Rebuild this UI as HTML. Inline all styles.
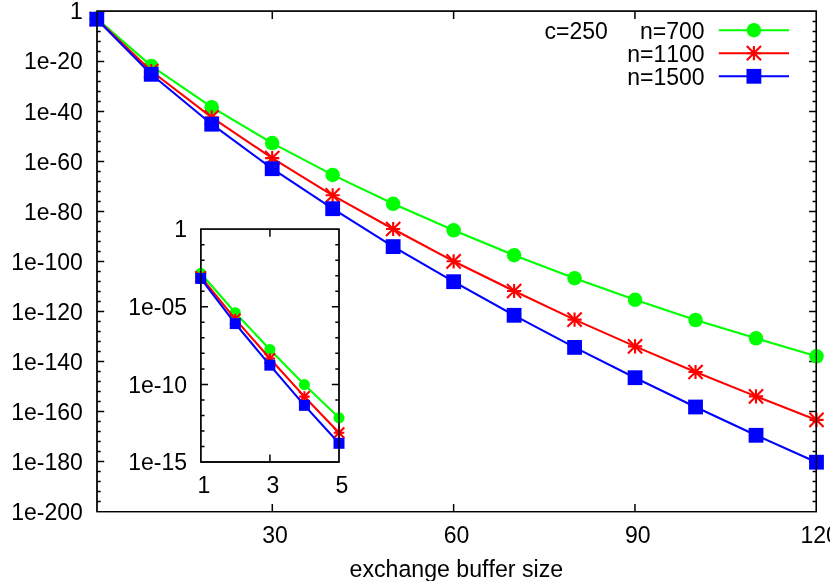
<!DOCTYPE html>
<html><head><meta charset="utf-8"><title>plot</title>
<style>
html,body{margin:0;padding:0;background:#fff;}
body{width:830px;height:581px;overflow:hidden;}
svg{display:block;will-change:transform;}
text{font-family:"Liberation Sans",sans-serif;font-size:23px;fill:#000;font-kerning:none;font-variant-ligatures:none;}
</style></head><body>
<svg width="830" height="581" viewBox="0 0 830 581">
<rect x="0" y="0" width="830" height="581" fill="#ffffff"/>
<path d="M97 11.15H816.3V511.7H97Z" fill="none" stroke="#000" stroke-width="1.3" stroke-linejoin="miter"/>
<path d="M97 21.40h3.7M816.3 21.40h-3.7M97 31.40h3.7M816.3 31.40h-3.7M97 41.40h3.7M816.3 41.40h-3.7M97 51.40h3.7M816.3 51.40h-3.7M97 61.41h7.2M816.3 61.41h-7.2M97 71.41h3.7M816.3 71.41h-3.7M97 81.41h3.7M816.3 81.41h-3.7M97 91.41h3.7M816.3 91.41h-3.7M97 101.41h3.7M816.3 101.41h-3.7M97 111.41h7.2M816.3 111.41h-7.2M97 121.41h3.7M816.3 121.41h-3.7M97 131.41h3.7M816.3 131.41h-3.7M97 141.41h3.7M816.3 141.41h-3.7M97 151.41h3.7M816.3 151.41h-3.7M97 161.41h7.2M816.3 161.41h-7.2M97 171.42h3.7M816.3 171.42h-3.7M97 181.42h3.7M816.3 181.42h-3.7M97 191.42h3.7M816.3 191.42h-3.7M97 201.42h3.7M816.3 201.42h-3.7M97 211.42h7.2M816.3 211.42h-7.2M97 221.42h3.7M816.3 221.42h-3.7M97 231.42h3.7M816.3 231.42h-3.7M97 241.42h3.7M816.3 241.42h-3.7M97 251.42h3.7M816.3 251.42h-3.7M97 261.43h7.2M816.3 261.43h-7.2M97 271.43h3.7M816.3 271.43h-3.7M97 281.43h3.7M816.3 281.43h-3.7M97 291.43h3.7M816.3 291.43h-3.7M97 301.43h3.7M816.3 301.43h-3.7M97 311.43h7.2M816.3 311.43h-7.2M97 321.43h3.7M816.3 321.43h-3.7M97 331.43h3.7M816.3 331.43h-3.7M97 341.43h3.7M816.3 341.43h-3.7M97 351.43h3.7M816.3 351.43h-3.7M97 361.44h7.2M816.3 361.44h-7.2M97 371.44h3.7M816.3 371.44h-3.7M97 381.44h3.7M816.3 381.44h-3.7M97 391.44h3.7M816.3 391.44h-3.7M97 401.44h3.7M816.3 401.44h-3.7M97 411.44h7.2M816.3 411.44h-7.2M97 421.44h3.7M816.3 421.44h-3.7M97 431.44h3.7M816.3 431.44h-3.7M97 441.44h3.7M816.3 441.44h-3.7M97 451.44h3.7M816.3 451.44h-3.7M97 461.44h7.2M816.3 461.44h-7.2M97 471.45h3.7M816.3 471.45h-3.7M97 481.45h3.7M816.3 481.45h-3.7M97 491.45h3.7M816.3 491.45h-3.7M97 501.45h3.7M816.3 501.45h-3.7M272.29 511.45v-7.5M272.29 11.4v7.5M453.63 511.45v-7.5M453.63 11.4v7.5M634.96 511.45v-7.5M634.96 11.4v7.5" fill="none" stroke="#000" stroke-width="1.5"/>
<polyline points="96.80,18.60 151.23,65.90 211.71,107.15 272.19,143.10 332.67,174.90 393.15,203.80 453.63,230.30 514.11,255.20 574.58,278.20 635.06,299.80 695.54,320.00 756.02,338.30 816.50,356.30" fill="none" stroke="#00ff00" stroke-width="2.1" stroke-linejoin="round"/>
<circle cx="96.80" cy="18.60" r="7.25" fill="#00ff00"/>
<circle cx="151.23" cy="65.90" r="7.25" fill="#00ff00"/>
<circle cx="211.71" cy="107.15" r="7.25" fill="#00ff00"/>
<circle cx="272.19" cy="143.10" r="7.25" fill="#00ff00"/>
<circle cx="332.67" cy="174.90" r="7.25" fill="#00ff00"/>
<circle cx="393.15" cy="203.80" r="7.25" fill="#00ff00"/>
<circle cx="453.63" cy="230.30" r="7.25" fill="#00ff00"/>
<circle cx="514.11" cy="255.20" r="7.25" fill="#00ff00"/>
<circle cx="574.58" cy="278.20" r="7.25" fill="#00ff00"/>
<circle cx="635.06" cy="299.80" r="7.25" fill="#00ff00"/>
<circle cx="695.54" cy="320.00" r="7.25" fill="#00ff00"/>
<circle cx="756.02" cy="338.30" r="7.25" fill="#00ff00"/>
<circle cx="816.50" cy="356.30" r="7.25" fill="#00ff00"/>
<polyline points="96.80,19.00 151.23,71.00 211.71,117.30 272.19,158.10 332.67,195.30 393.15,229.00 453.63,261.30 514.11,291.00 574.58,319.60 635.06,346.40 695.54,372.00 756.02,396.40 816.50,419.90" fill="none" stroke="#ff0000" stroke-width="2.1" stroke-linejoin="round"/>
<path d="M89.70 19.00H103.90M96.80 11.90V26.10M89.70 11.90L103.90 26.10M89.70 26.10L103.90 11.90" stroke="#ff0000" stroke-width="2.1" fill="none"/>
<path d="M144.13 71.00H158.33M151.23 63.90V78.10M144.13 63.90L158.33 78.10M144.13 78.10L158.33 63.90" stroke="#ff0000" stroke-width="2.1" fill="none"/>
<path d="M204.61 117.30H218.81M211.71 110.20V124.40M204.61 110.20L218.81 124.40M204.61 124.40L218.81 110.20" stroke="#ff0000" stroke-width="2.1" fill="none"/>
<path d="M265.09 158.10H279.29M272.19 151.00V165.20M265.09 151.00L279.29 165.20M265.09 165.20L279.29 151.00" stroke="#ff0000" stroke-width="2.1" fill="none"/>
<path d="M325.57 195.30H339.77M332.67 188.20V202.40M325.57 188.20L339.77 202.40M325.57 202.40L339.77 188.20" stroke="#ff0000" stroke-width="2.1" fill="none"/>
<path d="M386.05 229.00H400.25M393.15 221.90V236.10M386.05 221.90L400.25 236.10M386.05 236.10L400.25 221.90" stroke="#ff0000" stroke-width="2.1" fill="none"/>
<path d="M446.53 261.30H460.73M453.63 254.20V268.40M446.53 254.20L460.73 268.40M446.53 268.40L460.73 254.20" stroke="#ff0000" stroke-width="2.1" fill="none"/>
<path d="M507.01 291.00H521.21M514.11 283.90V298.10M507.01 283.90L521.21 298.10M507.01 298.10L521.21 283.90" stroke="#ff0000" stroke-width="2.1" fill="none"/>
<path d="M567.48 319.60H581.68M574.58 312.50V326.70M567.48 312.50L581.68 326.70M567.48 326.70L581.68 312.50" stroke="#ff0000" stroke-width="2.1" fill="none"/>
<path d="M627.96 346.40H642.16M635.06 339.30V353.50M627.96 339.30L642.16 353.50M627.96 353.50L642.16 339.30" stroke="#ff0000" stroke-width="2.1" fill="none"/>
<path d="M688.44 372.00H702.64M695.54 364.90V379.10M688.44 364.90L702.64 379.10M688.44 379.10L702.64 364.90" stroke="#ff0000" stroke-width="2.1" fill="none"/>
<path d="M748.92 396.40H763.12M756.02 389.30V403.50M748.92 389.30L763.12 403.50M748.92 403.50L763.12 389.30" stroke="#ff0000" stroke-width="2.1" fill="none"/>
<path d="M809.40 419.90H823.60M816.50 412.80V427.00M809.40 412.80L823.60 427.00M809.40 427.00L823.60 412.80" stroke="#ff0000" stroke-width="2.1" fill="none"/>
<polyline points="96.80,19.20 151.23,74.30 211.71,124.20 272.19,168.70 332.67,208.70 393.15,246.60 453.63,281.70 514.11,315.30 574.58,347.40 635.06,377.70 695.54,407.00 756.02,435.30 816.50,462.20" fill="none" stroke="#0000ff" stroke-width="2.1" stroke-linejoin="round"/>
<rect x="89.40" y="11.80" width="14.8" height="14.8" fill="#0000ff"/>
<rect x="143.83" y="66.90" width="14.8" height="14.8" fill="#0000ff"/>
<rect x="204.31" y="116.80" width="14.8" height="14.8" fill="#0000ff"/>
<rect x="264.79" y="161.30" width="14.8" height="14.8" fill="#0000ff"/>
<rect x="325.27" y="201.30" width="14.8" height="14.8" fill="#0000ff"/>
<rect x="385.75" y="239.20" width="14.8" height="14.8" fill="#0000ff"/>
<rect x="446.23" y="274.30" width="14.8" height="14.8" fill="#0000ff"/>
<rect x="506.71" y="307.90" width="14.8" height="14.8" fill="#0000ff"/>
<rect x="567.18" y="340.00" width="14.8" height="14.8" fill="#0000ff"/>
<rect x="627.66" y="370.30" width="14.8" height="14.8" fill="#0000ff"/>
<rect x="688.14" y="399.60" width="14.8" height="14.8" fill="#0000ff"/>
<rect x="748.62" y="427.90" width="14.8" height="14.8" fill="#0000ff"/>
<rect x="809.10" y="454.80" width="14.8" height="14.8" fill="#0000ff"/>
<line x1="718.8" y1="30.2" x2="789" y2="30.2" stroke="#00ff00" stroke-width="2.1"/>
<circle cx="753.90" cy="30.20" r="7.25" fill="#00ff00"/>
<line x1="718.8" y1="53.2" x2="789" y2="53.2" stroke="#ff0000" stroke-width="2.1"/>
<path d="M746.80 53.20H761.00M753.90 46.10V60.30M746.80 46.10L761.00 60.30M746.80 60.30L761.00 46.10" stroke="#ff0000" stroke-width="2.1" fill="none"/>
<line x1="718.8" y1="76.3" x2="789" y2="76.3" stroke="#0000ff" stroke-width="2.1"/>
<rect x="746.50" y="68.90" width="14.8" height="14.8" fill="#0000ff"/>
<path d="M97 11.15H816.3V511.7H97Z" fill="none" stroke="#000" stroke-width="1.3" stroke-linejoin="miter"/>
<path d="M200.85 229.2H339V462H200.85Z" fill="none" stroke="#000" stroke-width="1.3" stroke-linejoin="miter"/>
<path d="M200.85 244.72h3.7M339 244.72h-3.7M200.85 260.24h3.7M339 260.24h-3.7M200.85 275.76h3.7M339 275.76h-3.7M200.85 291.28h3.7M339 291.28h-3.7M200.85 306.80h7.2M339 306.80h-7.2M200.85 322.32h3.7M339 322.32h-3.7M200.85 337.84h3.7M339 337.84h-3.7M200.85 353.36h3.7M339 353.36h-3.7M200.85 368.88h3.7M339 368.88h-3.7M200.85 384.40h7.2M339 384.40h-7.2M200.85 399.92h3.7M339 399.92h-3.7M200.85 415.44h3.7M339 415.44h-3.7M200.85 430.96h3.7M339 430.96h-3.7M200.85 446.48h3.7M339 446.48h-3.7M269.93 462v-7.5M269.93 229.2v7.5" fill="none" stroke="#000" stroke-width="1.5"/>
<polyline points="200.70,273.30 235.27,312.70 269.85,349.50 304.43,384.65 339.00,417.80" fill="none" stroke="#00ff00" stroke-width="2.1" stroke-linejoin="round"/>
<circle cx="200.70" cy="273.30" r="5.55" fill="#00ff00"/>
<circle cx="235.27" cy="312.70" r="5.55" fill="#00ff00"/>
<circle cx="269.85" cy="349.50" r="5.55" fill="#00ff00"/>
<circle cx="304.43" cy="384.65" r="5.55" fill="#00ff00"/>
<circle cx="339.00" cy="417.80" r="5.55" fill="#00ff00"/>
<polyline points="200.70,276.60 235.27,319.10 269.85,358.50 304.43,396.65 339.00,432.80" fill="none" stroke="#ff0000" stroke-width="2.1" stroke-linejoin="round"/>
<path d="M195.40 276.60H206.00M200.70 271.30V281.90M195.40 271.30L206.00 281.90M195.40 281.90L206.00 271.30" stroke="#ff0000" stroke-width="2.1" fill="none"/>
<path d="M229.97 319.10H240.57M235.27 313.80V324.40M229.97 313.80L240.57 324.40M229.97 324.40L240.57 313.80" stroke="#ff0000" stroke-width="2.1" fill="none"/>
<path d="M264.55 358.50H275.15M269.85 353.20V363.80M264.55 353.20L275.15 363.80M264.55 363.80L275.15 353.20" stroke="#ff0000" stroke-width="2.1" fill="none"/>
<path d="M299.12 396.65H309.73M304.43 391.35V401.95M299.12 391.35L309.73 401.95M299.12 401.95L309.73 391.35" stroke="#ff0000" stroke-width="2.1" fill="none"/>
<path d="M333.70 432.80H344.30M339.00 427.50V438.10M333.70 427.50L344.30 438.10M333.70 438.10L344.30 427.50" stroke="#ff0000" stroke-width="2.1" fill="none"/>
<polyline points="200.70,278.45 235.27,323.60 269.85,365.15 304.43,405.35 339.00,443.30" fill="none" stroke="#0000ff" stroke-width="2.1" stroke-linejoin="round"/>
<rect x="195.20" y="272.95" width="11" height="11" fill="#0000ff"/>
<rect x="229.77" y="318.10" width="11" height="11" fill="#0000ff"/>
<rect x="264.35" y="359.65" width="11" height="11" fill="#0000ff"/>
<rect x="298.93" y="399.85" width="11" height="11" fill="#0000ff"/>
<rect x="333.50" y="437.80" width="11" height="11" fill="#0000ff"/>
<path d="M200.85 229.2H339V462H200.85Z" fill="none" stroke="#000" stroke-width="1.3" stroke-linejoin="miter"/>
<text x="82.8" y="19.2" text-anchor="end">1</text>
<text x="82.8" y="69.39" text-anchor="end">1e-20</text>
<text x="82.8" y="119.57" text-anchor="end">1e-40</text>
<text x="82.8" y="169.75" text-anchor="end">1e-60</text>
<text x="82.8" y="219.94" text-anchor="end">1e-80</text>
<text x="82.8" y="270.12" text-anchor="end">1e-100</text>
<text x="82.8" y="320.13" text-anchor="end">1e-120</text>
<text x="82.8" y="370.13" text-anchor="end">1e-140</text>
<text x="82.8" y="420.14" text-anchor="end">1e-160</text>
<text x="82.8" y="470.14" text-anchor="end">1e-180</text>
<text x="82.8" y="520.15" text-anchor="end">1e-200</text>
<text x="275.092" y="542.7" text-anchor="middle">30</text>
<text x="456.428" y="542.7" text-anchor="middle">60</text>
<text x="637.764" y="542.7" text-anchor="middle">90</text>
<text x="819.6" y="542.7" text-anchor="middle">120</text>
<text x="456.35" y="577.0" text-anchor="middle" style="font-size:23.15px">exchange buffer size</text>
<text x="187" y="237.4" text-anchor="end">1</text>
<text x="187" y="315" text-anchor="end">1e-05</text>
<text x="187" y="392.6" text-anchor="end">1e-10</text>
<text x="187" y="470.2" text-anchor="end">1e-15</text>
<text x="203.85" y="493" text-anchor="middle">1</text>
<text x="272.925" y="493" text-anchor="middle">3</text>
<text x="342" y="493" text-anchor="middle">5</text>
<text x="607.8" y="38.7" text-anchor="end">c=250</text>
<text x="704.6" y="38.7" text-anchor="end">n=700</text>
<text x="704.6" y="61.5" text-anchor="end">n=1100</text>
<text x="704.6" y="84.5" text-anchor="end">n=1500</text>
</svg></body></html>
